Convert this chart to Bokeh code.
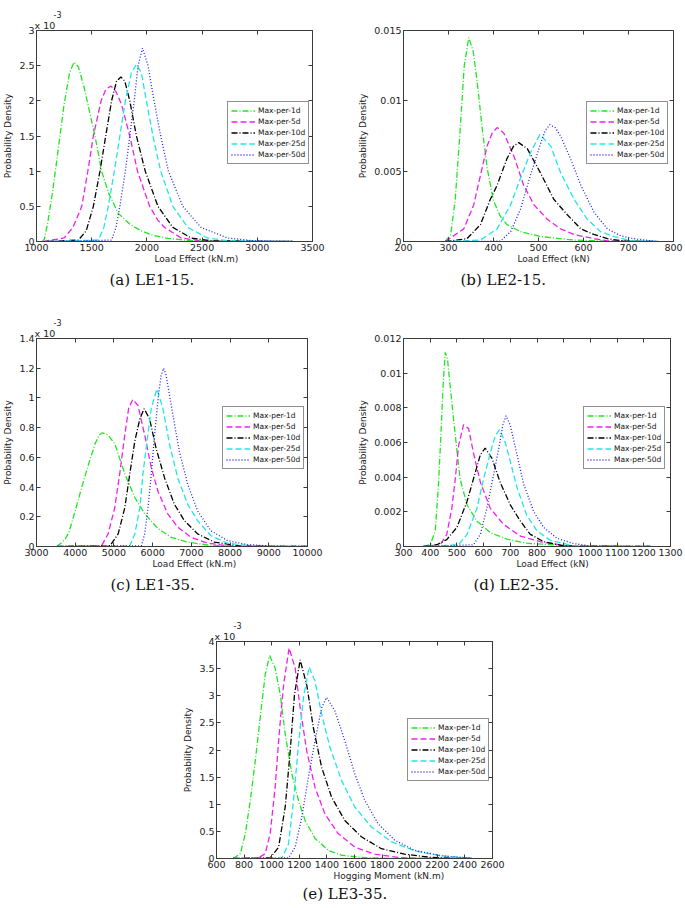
from bokeh.plotting import figure
from bokeh.models import Range1d, FixedTicker, LinearAxis, Legend, LegendItem, Spacer, Title
from bokeh.layouts import row, column
from bokeh.embed import file_html
from bokeh.resources import INLINE

series_names = ["Max-per-1d", "Max-per-5d", "Max-per-10d", "Max-per-25d", "Max-per-50d"]

# ---------------- (a) LE1-15 : Load Effect (kN.m), density x 1e-3
a_x_1d = [1050, 1070, 1100, 1150, 1200, 1250, 1300, 1340, 1380, 1430, 1480, 1530, 1590, 1650, 1740, 1850, 1950, 2050, 2190, 2400, 2700, 3320]
a_y_1d = [0, 0.03, 0.25, 0.75, 1.35, 1.95, 2.4, 2.55, 2.48, 2.2, 1.85, 1.5, 1.0, 0.7, 0.4, 0.24, 0.15, 0.09, 0.045, 0.012, 0.003, 0]
a_x_5d = [1060, 1250, 1330, 1410, 1465, 1515, 1585, 1630, 1675, 1720, 1770, 1845, 1915, 2025, 2100, 2160, 2310, 2490, 2700, 3320]
a_y_5d = [0, 0.05, 0.2, 0.5, 1.0, 1.5, 2.0, 2.17, 2.21, 2.13, 1.95, 1.5, 1.0, 0.5, 0.3, 0.2, 0.05, 0.01, 0.002, 0]
a_x_10d = [1100, 1380, 1450, 1515, 1575, 1627, 1680, 1725, 1764, 1800, 1845, 1905, 1985, 2100, 2235, 2400, 2580, 3320]
a_y_10d = [0, 0.02, 0.15, 0.5, 1.0, 1.5, 2.0, 2.28, 2.34, 2.28, 2.0, 1.5, 1.0, 0.5, 0.2, 0.05, 0.01, 0]
a_x_25d = [1100, 1560, 1610, 1650, 1705, 1755, 1805, 1860, 1905, 1950, 1995, 2055, 2125, 2235, 2370, 2550, 2730, 3320]
a_y_25d = [0, 0.02, 0.2, 0.5, 1.0, 1.5, 2.0, 2.4, 2.52, 2.4, 2.0, 1.5, 1.0, 0.5, 0.2, 0.05, 0.01, 0]
a_x_50d = [1100, 1680, 1720, 1755, 1805, 1845, 1885, 1920, 1960, 2010, 2065, 2125, 2195, 2325, 2490, 2730, 2970, 3320]
a_y_50d = [0, 0.02, 0.2, 0.5, 1.0, 1.5, 2.0, 2.5, 2.75, 2.5, 2.0, 1.5, 1.0, 0.5, 0.2, 0.05, 0.01, 0]
a_xticks = [1000, 1500, 2000, 2500, 3000, 3500]
a_xtick_labels = ["1000", "1500", "2000", "2500", "3000", "3500"]
a_yticks = [0, 0.5, 1, 1.5, 2, 2.5, 3]
a_ytick_labels = ["0", "0.5", "1", "1.5", "2", "2.5", "3"]

# ---------------- (b) LE2-15 : Load Effect (kN)
b_x_1d = [293, 305, 315, 325, 335, 345, 355, 365, 375, 386, 400, 415, 430, 460, 505, 580, 650, 765]
b_y_1d = [0, 0.0005, 0.003, 0.0075, 0.0125, 0.0145, 0.0135, 0.011, 0.008, 0.0052, 0.0029, 0.0018, 0.0012, 0.0007, 0.00035, 0.0001, 0.00003, 0]
b_x_5d = [293, 334, 356, 371, 386, 397, 408, 423, 445, 467, 490, 519, 549, 579, 623, 653, 765]
b_y_5d = [0, 0.0009, 0.0026, 0.0047, 0.0068, 0.0077, 0.0081, 0.0077, 0.0061, 0.004, 0.0026, 0.0016, 0.0009, 0.0005, 0.0002, 0.00005, 0]
b_x_10d = [293, 341, 371, 393, 408, 430, 445, 456, 475, 504, 534, 564, 594, 623, 653, 690, 765]
b_y_10d = [0, 0.0002, 0.0012, 0.003, 0.004, 0.0059, 0.0068, 0.00703, 0.0066, 0.0049, 0.003, 0.0019, 0.0009, 0.0005, 0.0002, 0.00003, 0]
b_x_25d = [293, 371, 408, 438, 460, 482, 503, 527, 549, 579, 608, 638, 668, 705, 765]
b_y_25d = [0, 0.0001, 0.0009, 0.0026, 0.0045, 0.0063, 0.0076, 0.0068, 0.0049, 0.003, 0.0016, 0.0007, 0.00035, 0.00005, 0]
b_x_50d = [293, 415, 438, 460, 482, 505, 515, 525, 537, 549, 560, 571, 594, 623, 653, 683, 712, 757, 765]
b_y_50d = [0, 0.00002, 0.0007, 0.0023, 0.0047, 0.007, 0.0079, 0.0083, 0.0081, 0.0075, 0.0067, 0.0059, 0.004, 0.0021, 0.0009, 0.0004, 0.0002, 0.00002, 0]
b_xticks = [200, 300, 400, 500, 600, 700, 800]
b_xtick_labels = ["200", "300", "400", "500", "600", "700", "800"]
b_yticks = [0, 0.005, 0.01, 0.015]
b_ytick_labels = ["0", "0.005", "0.01", "0.015"]

# ---------------- (c) LE1-35 : Load Effect (kN.m), density x 1e-3
c_x_1d = [3530, 3570, 3650, 3750, 3830, 4000, 4170, 4340, 4510, 4620, 4700, 4850, 5025, 5280, 5540, 5795, 6140, 6480, 6900, 7420, 8100, 10000]
c_y_1d = [0, 0.01, 0.025, 0.055, 0.09, 0.24, 0.40, 0.55, 0.69, 0.75, 0.765, 0.75, 0.69, 0.49, 0.33, 0.22, 0.12, 0.062, 0.03, 0.01, 0.001, 0]
c_x_5d = [3530, 4680, 4850, 5020, 5150, 5280, 5380, 5487, 5620, 5795, 5965, 6140, 6390, 6650, 6990, 7420, 8020, 10000]
c_y_5d = [0, 0.005, 0.085, 0.26, 0.49, 0.75, 0.93, 0.99, 0.95, 0.75, 0.53, 0.37, 0.22, 0.13, 0.062, 0.022, 0.003, 0]
c_x_10d = [3530, 4900, 5110, 5280, 5410, 5540, 5670, 5780, 5920, 6090, 6310, 6560, 6820, 7160, 7590, 8270, 10000]
c_y_10d = [0, 0.005, 0.085, 0.26, 0.49, 0.71, 0.86, 0.927, 0.86, 0.66, 0.46, 0.285, 0.174, 0.085, 0.03, 0.003, 0]
c_x_25d = [3530, 5410, 5540, 5670, 5750, 5855, 5965, 6110, 6265, 6435, 6650, 6905, 7160, 7500, 7930, 8615, 10000]
c_y_25d = [0, 0.005, 0.085, 0.26, 0.49, 0.71, 0.93, 1.06, 0.93, 0.69, 0.46, 0.285, 0.174, 0.074, 0.022, 0.003, 0]
c_x_50d = [3530, 5710, 5795, 5880, 5965, 6050, 6150, 6220, 6280, 6340, 6390, 6520, 6690, 6905, 7160, 7500, 7930, 8445, 9130, 10000]
c_y_50d = [0, 0.005, 0.085, 0.26, 0.49, 0.75, 1.02, 1.15, 1.20, 1.16, 1.09, 0.89, 0.64, 0.42, 0.24, 0.107, 0.04, 0.013, 0.002, 0]
c_xticks = [3000, 4000, 5000, 6000, 7000, 8000, 9000, 10000]
c_xtick_labels = ["3000", "4000", "5000", "6000", "7000", "8000", "9000", "10000"]
c_yticks = [0, 0.2, 0.4, 0.6, 0.8, 1, 1.2, 1.4]
c_ytick_labels = ["0", "0.2", "0.4", "0.6", "0.8", "1", "1.2", "1.4"]

# ---------------- (d) LE2-35 : Load Effect (kN)
d_x_1d = [375, 400, 419, 431, 440, 448, 456, 465, 475, 494, 512, 538, 575, 625, 688, 762, 875, 962, 1225]
d_y_1d = [0, 0.0001, 0.0009, 0.0036, 0.0064, 0.0092, 0.0112, 0.0108, 0.0092, 0.0064, 0.0039, 0.0024, 0.00146, 0.0008, 0.00042, 0.00019, 0.00008, 0.00002, 0]
d_x_5d = [375, 438, 462, 481, 494, 506, 525, 544, 562, 588, 625, 675, 738, 812, 912, 1225]
d_y_5d = [0, 0.0001, 0.0007, 0.0022, 0.0039, 0.0058, 0.00703, 0.0068, 0.0054, 0.0037, 0.0022, 0.00127, 0.0006, 0.00028, 0.00003, 0]
d_x_10d = [375, 425, 462, 500, 538, 562, 588, 606, 631, 662, 700, 738, 775, 825, 900, 1225]
d_y_10d = [0, 0.0001, 0.0004, 0.0011, 0.0026, 0.0039, 0.0053, 0.00568, 0.0051, 0.0037, 0.0024, 0.00146, 0.0007, 0.00028, 0.00003, 0]
d_x_25d = [375, 506, 538, 575, 600, 625, 644, 660, 681, 700, 725, 762, 800, 850, 937, 1225]
d_y_25d = [0, 0.0001, 0.0007, 0.0022, 0.0039, 0.0054, 0.0064, 0.00674, 0.006, 0.0049, 0.0034, 0.0018, 0.0009, 0.00036, 0.00003, 0]
d_x_50d = [375, 562, 588, 612, 637, 656, 672, 684, 700, 725, 750, 788, 825, 875, 937, 1000, 1225]
d_y_50d = [0, 0.0001, 0.0007, 0.0022, 0.0041, 0.0056, 0.007, 0.00754, 0.007, 0.0053, 0.0036, 0.002, 0.0011, 0.00047, 0.00017, 0.00003, 0]
d_xticks = [300, 400, 500, 600, 700, 800, 900, 1000, 1100, 1200, 1300]
d_xtick_labels = ["300", "400", "500", "600", "700", "800", "900", "1000", "1100", "1200", "1300"]
d_yticks = [0, 0.002, 0.004, 0.006, 0.008, 0.01, 0.012]
d_ytick_labels = ["0", "0.002", "0.004", "0.006", "0.008", "0.01", "0.012"]

# ---------------- (e) LE3-35 : Hogging Moment (kN.m), density x 1e-3
e_x_1d = [720, 773, 809, 845, 881, 917, 953, 985, 1025, 1062, 1098, 1146, 1194, 1242, 1314, 1410, 1506, 1650, 1843, 2450]
e_y_1d = [0, 0.09, 0.46, 1.07, 1.8, 2.6, 3.39, 3.74, 3.51, 3.02, 2.29, 1.56, 1.07, 0.70, 0.37, 0.15, 0.06, 0.02, 0.003, 0]
e_x_5d = [720, 905, 953, 989, 1025, 1054, 1086, 1126, 1170, 1206, 1254, 1314, 1386, 1482, 1602, 1747, 1915, 2083, 2450]
e_y_5d = [0, 0.01, 0.09, 0.46, 1.31, 2.29, 3.2, 3.88, 3.51, 2.78, 1.98, 1.31, 0.82, 0.46, 0.21, 0.08, 0.02, 0.003, 0]
e_x_10d = [720, 989, 1050, 1098, 1134, 1165, 1206, 1254, 1302, 1362, 1434, 1530, 1650, 1795, 1963, 2155, 2324, 2450]
e_y_10d = [0, 0.01, 0.21, 0.95, 1.98, 3.02, 3.66, 3.2, 2.41, 1.68, 1.13, 0.70, 0.40, 0.18, 0.08, 0.02, 0.003, 0]
e_x_25d = [720, 1074, 1122, 1158, 1194, 1230, 1271, 1314, 1362, 1422, 1506, 1602, 1723, 1867, 2035, 2227, 2450]
e_y_25d = [0, 0.01, 0.27, 1.07, 2.1, 2.96, 3.53, 3.27, 2.66, 2.05, 1.44, 0.95, 0.58, 0.31, 0.14, 0.05, 0.005]
e_x_50d = [720, 1122, 1170, 1218, 1266, 1314, 1362, 1398, 1458, 1530, 1602, 1675, 1771, 1891, 2035, 2227, 2450]
e_y_50d = [0, 0.01, 0.21, 0.76, 1.5, 2.17, 2.78, 2.97, 2.72, 2.17, 1.56, 1.07, 0.64, 0.34, 0.15, 0.05, 0.005]
e_xticks = [600, 800, 1000, 1200, 1400, 1600, 1800, 2000, 2200, 2400, 2600]
e_xtick_labels = ["600", "800", "1000", "1200", "1400", "1600", "1800", "2000", "2200", "2400", "2600"]
e_yticks = [0, 0.5, 1, 1.5, 2, 2.5, 3, 3.5, 4]
e_ytick_labels = ["0", "0.5", "1", "1.5", "2", "2.5", "3", "3.5", "4"]

# ---------------- styles
COLORS = ["#22e622", "#ee22ee", "#000000", "#22e6e6", "#2222ee"]
DASHES = ["6 2 1 2", "6 3", "6 2 1 2", "6 3", "1 2"]
FONT = "DejaVu Sans"
SERIF = "DejaVu Serif"
AX = "#3a3a3a"
TXT = "#222222"


def hidden_axis(ticks):
    return LinearAxis(ticker=FixedTicker(ticks=ticks), major_label_text_font_size="1px",
                      major_label_text_color=None, major_tick_in=4, major_tick_out=0,
                      minor_tick_line_color=None, axis_line_color=AX,
                      major_tick_line_color=AX, major_label_standoff=0)


def make_panel(xs, ys, xr, yr, xticks, xlabels, yticks, ylabels, xlabel, caption,
               mult, w, h, bl, br, bt, bb, xlab_off, cap_off, cap_standoff):
    p = figure(width=w, height=h, min_border_left=bl, min_border_right=br,
               min_border_top=bt, min_border_bottom=bb,
               x_range=Range1d(*xr), y_range=Range1d(*yr),
               toolbar_location=None, output_backend="svg")
    p.grid.visible = False
    p.outline_line_color = AX
    p.outline_line_width = 1

    for ax, ticks, labels in ((p.xaxis[0], xticks, xlabels), (p.yaxis[0], yticks, ylabels)):
        ax.ticker = FixedTicker(ticks=ticks)
        ax.major_label_overrides = dict(zip(ticks, labels))
        ax.major_tick_in = 4
        ax.major_tick_out = 0
        ax.minor_tick_line_color = None
        ax.axis_line_color = AX
        ax.major_tick_line_color = AX
        ax.major_label_text_font = FONT
        ax.major_label_text_font_size = "9.5px"
        ax.major_label_text_color = TXT
        ax.major_label_standoff = 2
    p.yaxis[0].axis_label = "Probability Density"
    p.yaxis[0].axis_label_text_font = FONT
    p.yaxis[0].axis_label_text_font_size = "9px"
    p.yaxis[0].axis_label_text_font_style = "normal"
    p.yaxis[0].axis_label_text_color = TXT
    p.yaxis[0].axis_label_standoff = 3

    # mirrored tick marks on top and right (box style)
    p.add_layout(hidden_axis(xticks), "above")
    p.add_layout(hidden_axis(yticks), "right")

    items = []
    for name, x, y, c, d in zip(series_names, xs, ys, COLORS, DASHES):
        r = p.line(x, y, line_color=c, line_dash=d, line_width=1.3)
        items.append(LegendItem(label=name, renderers=[r]))
    fw = w - bl - br
    leg = Legend(items=items, location=(fw - 87, 77))
    leg.label_text_font = FONT
    leg.label_text_font_size = "7.5px"
    leg.label_text_color = "#111111"
    leg.label_height = 11
    leg.glyph_height = 11
    leg.glyph_width = 24
    leg.label_standoff = 3
    leg.spacing = 0
    leg.padding = 3
    leg.margin = 0
    leg.border_line_color = "#222222"
    leg.border_line_width = 1
    leg.background_fill_alpha = 1
    p.add_layout(leg)

    # x-axis label and sub-figure caption, stacked below the axis
    p.add_layout(Title(text=xlabel, align="left", offset=xlab_off, standoff=0,
                       vertical_align="top", text_font=FONT, text_font_size="9px",
                       text_font_style="normal", text_color=TXT), "below")
    p.add_layout(Title(text=caption, align="left", offset=cap_off, standoff=cap_standoff,
                       vertical_align="top", text_font=SERIF, text_font_size="15px",
                       text_font_style="normal", text_color="#111111"), "below")
    if mult:
        base, exp = mult
        p.add_layout(Title(text=base, align="left", offset=-2, standoff=0,
                           text_font=FONT, text_font_size="9.5px",
                           text_font_style="normal", text_color=TXT), "above")
        p.add_layout(Title(text=exp, align="left", offset=17, standoff=0,
                           vertical_align="bottom", text_font=FONT, text_font_size="8px",
                           text_font_style="normal", text_color=TXT), "above")
    return p


MULT = ("x 10", "-3")

pa = make_panel([a_x_1d, a_x_5d, a_x_10d, a_x_25d, a_x_50d], [a_y_1d, a_y_5d, a_y_10d, a_y_25d, a_y_50d],
                (1000, 3500), (0, 3), a_xticks, a_xtick_labels, a_yticks, a_ytick_labels,
                "Load Effect (kN.m)", "(a) LE1-15.", MULT,
                348, 316, 34, 36, 21, 75, 118, 73, 10)
pb = make_panel([b_x_1d, b_x_5d, b_x_10d, b_x_25d, b_x_50d], [b_y_1d, b_y_5d, b_y_10d, b_y_25d, b_y_50d],
                (200, 800), (0, 0.015), b_xticks, b_xtick_labels, b_yticks, b_ytick_labels,
                "Load Effect (kN)", "(b) LE2-15.", None,
                336, 316, 55, 11, 30, 73, 114, 57, 10)
pc = make_panel([c_x_1d, c_x_5d, c_x_10d, c_x_25d, c_x_50d], [c_y_1d, c_y_5d, c_y_10d, c_y_25d, c_y_50d],
                (3000, 10000), (0, 1.4), c_xticks, c_xtick_labels, c_yticks, c_ytick_labels,
                "Load Effect (kN.m)", "(c) LE1-35.", MULT,
                348, 303, 34, 41, 21, 73, 116, 74, 10)
pd_ = make_panel([d_x_1d, d_x_5d, d_x_10d, d_x_25d, d_x_50d], [d_y_1d, d_y_5d, d_y_10d, d_y_25d, d_y_50d],
                 (300, 1300), (0, 0.012), d_xticks, d_xtick_labels, d_yticks, d_ytick_labels,
                 "Load Effect (kN)", "(d) LE2-35.", None,
                 336, 303, 55, 14, 19, 73, 113, 70, 10)
pe = make_panel([e_x_1d, e_x_5d, e_x_10d, e_x_25d, e_x_50d], [e_y_1d, e_y_5d, e_y_10d, e_y_25d, e_y_50d],
                (600, 2600), (0, 4), e_xticks, e_xtick_labels, e_yticks, e_ytick_labels,
                "Hogging Moment (kN.m)", "(e) LE3-35.", MULT,
                342, 287, 34, 30, 21, 48, 117, 86, 4)

layout = column(row(pa, pb), row(pc, pd_), row(Spacer(width=180, height=10), pe))

open("out.html", "w").write(file_html(layout, INLINE))
